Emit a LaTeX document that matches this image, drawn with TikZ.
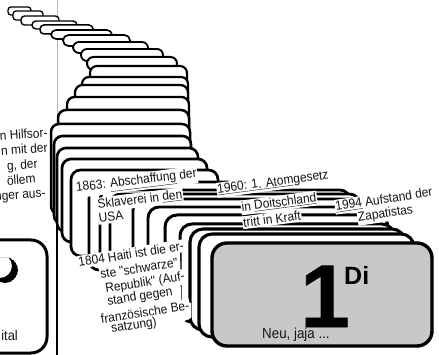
\documentclass[tikz,border=0pt]{standalone}
\usepackage{fontspec}
\setmainfont{Liberation Sans}
\newfontfamily\labfont[FakeStretch=0.92]{Liberation Sans}
\newfontfamily\heavyfont[FakeBold=0.8]{Liberation Sans Bold}
\definecolor{cardgray}{RGB}{200,200,200}
\definecolor{ink}{RGB}{20,20,20}
\begin{document}
\begin{tikzpicture}[x=1pt,y=-1pt,
  card/.style={draw=black, fill=white, line join=round},
  lab/.style={fill=white, inner xsep=0.8pt, inner ysep=1.6pt, text=ink, font=\labfont\fontsize{13}{15}\selectfont},
  side/.style={text=ink, inner sep=0pt, font=\labfont\fontsize{13}{15}\selectfont}]
\path[use as bounding box] (0,0) rectangle (439,355);
\clip (0,0) rectangle (439,355);
\fill[white] (0,0) rectangle (439,355);
% page division line
\draw[gray!55, line width=0.8pt] (57,0) -- (57,130);
\draw[black, line width=1.4pt] (57,130) -- (57,356);
% stack of cards, back to front
\foreach \l/\t/\r/\b/\rad/\lw in {
  8/7/31/15/3/1.3, 13/11/43/20/3/1.3, 21/16/59/25/3.5/1.4, 32/21/77/29/4/1.4,
  40/25/93/34/4/1.5, 51/30/112/39/5/1.6, 63/35/130/46/5.5/1.7, 73/42/148/53/6/1.8,
  81/49/163/61/6/1.9, 87/57/177/70/6.5/2.0, 90/66/187/172/7/2.1,
  82/77/188/180/7/2.2, 75/85/188/188/7.5/2.3, 67/97/189/196/7.5/2.4,
  58/110/189/205/8/2.5, 51/124/190/214/8/2.5, 54/136/191/224/8.5/2.6,
  57/148/198/232/9/2.6, 62/159/207/242/9/2.7, 71/170/218/256/9.5/2.7,
  89/182/238/270/10/2.8, 100/190/350/272/10/2.8, 110/194/360/282/10.5/2.8,
  133/199/370/292/11/2.9, 148/207/380/304/11/2.9, 165/215/388/314/12/3.0,
  180/224/394/322/12/3.0, 190/229/405/330/13/3.1, 199/234/414/337/13/3.1}{
  \draw[card, rounded corners=\rad pt, line width=\lw pt] (\l,\t) rectangle (\r,\b);
}
% front card
\draw[card, fill=cardgray, rounded corners=15pt, line width=3.4pt] (212,243) rectangle (432,346);
\node[font=\heavyfont\fontsize{89}{89}\selectfont, anchor=base, inner sep=0pt] (one) at (325,327) {1};
\node[font=\bfseries\fontsize{25}{25}\selectfont, anchor=base west, inner sep=0pt] (di) at (344,285) {Di};
\node[font=\labfont\fontsize{14.5}{16}\selectfont, anchor=base west, inner sep=0pt, text=ink] (neu) at (262,338) {Neu, jaja ...};
% partial card at the left
\draw[card, rounded corners=16pt, line width=3pt] (-40,240) rectangle (47,353);
\begin{scope}
  \clip (5,270) circle (13);
  \fill[black, even odd rule] (5,270) circle (13) (0,266) circle (12);
\end{scope}
\node[side, anchor=base east, font=\labfont\fontsize{14}{16}\selectfont] (ital) at (18,340) {ital};
% text of the page at the left
\node[side, anchor=base east, rotate=4] (p1) at (48,137) {n Hilfsor-};
\node[side, anchor=base east, rotate=4] (p2) at (48,152) {n mit der};
\node[side, anchor=base east, rotate=4] (p3) at (38,168) {g, der};
\node[side, anchor=base east, rotate=4] (p4) at (36,183) {öllem};
\node[side, anchor=base east, rotate=4] (p5) at (46,197) {nger aus-};
% white ground under the 1804 text
\fill[white] (99,262) -- (180,249) -- (181,300) -- (191,303) -- (191,318) -- (160,332) -- (112,340) -- (99,330) -- cycle;
% labels
\node[lab, rotate=7] (a1) at (136.5,182) {1863: \underline{Abschaffung} der};
\node[lab, rotate=7] (a2) at (140,200) {Sklaverei in \underline{den}};
\node[lab, rotate=7] (a3) at (111,217) {USA};
\node[lab, rotate=9] (b1) at (131,254) {1804 Haiti ist die er-};
\node[lab, rotate=9] (b2) at (139,268) {ste "schwarze"};
\node[lab, rotate=9] (b3) at (145,283) {Republik" (Auf-};
\node[lab, rotate=9] (b4) at (140,297) {stand gegen};
\node[lab, rotate=9] (b5) at (145,312) {französische Be-};
\node[lab, rotate=9] (b6) at (134,326) {satzung)};
\node[lab, rotate=7.5] (c1) at (273,183) {\underline{1960: 1. Atom}gesetz};
\node[lab, rotate=7.5] (c2) at (279,203) {in \underline{Doitschland}};
\node[lab, rotate=7.5] (c3) at (272,219) {tritt in Kraft};
\node[lab, rotate=8.5] (d1) at (384,200) {\underline{1994} Aufstand der};
\node[lab, rotate=8.5] (d2) at (385.5,214) {Zapatistas};
\end{tikzpicture}
\end{document}
